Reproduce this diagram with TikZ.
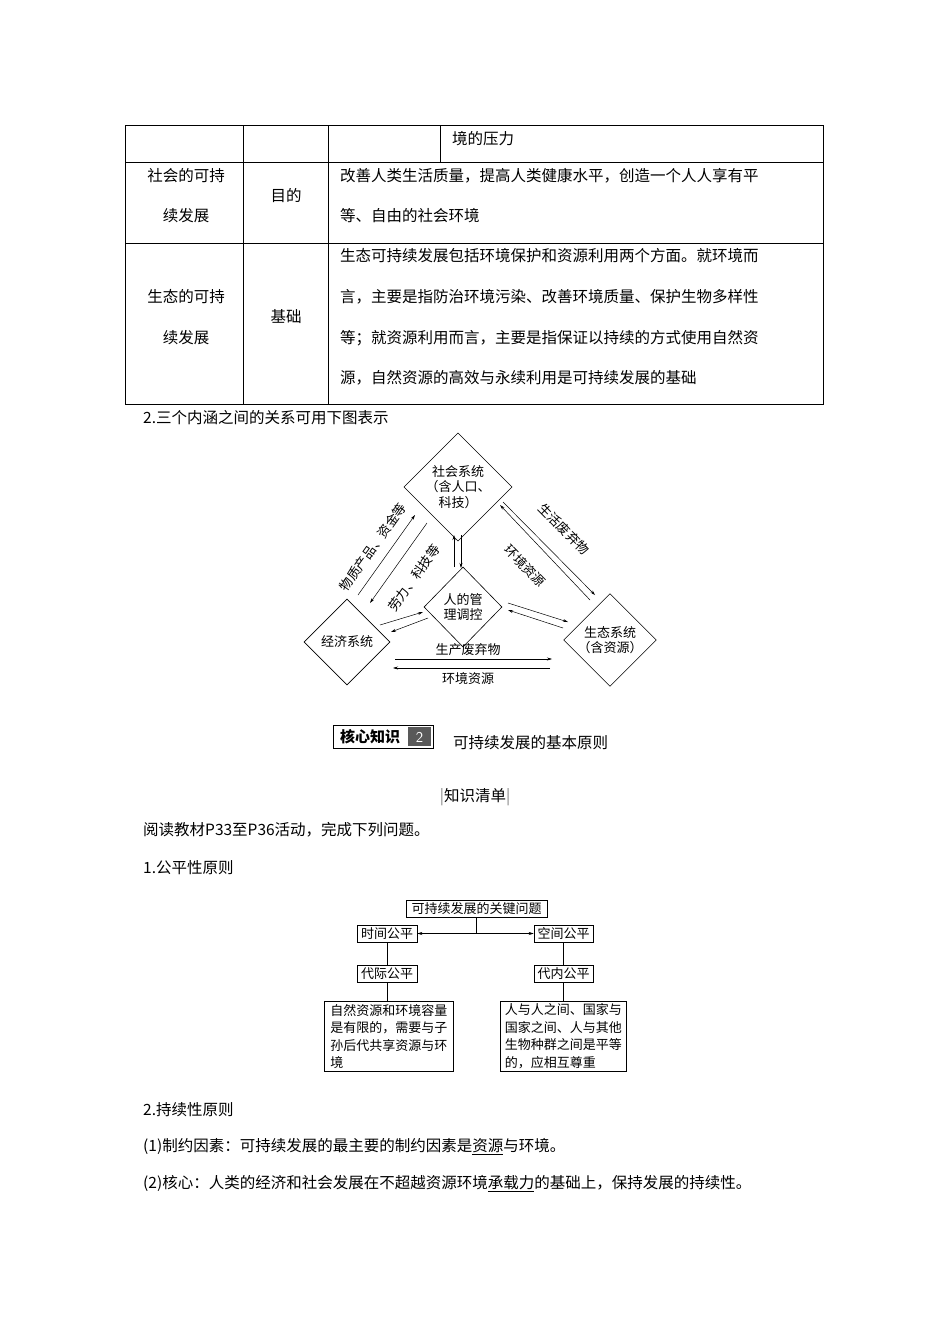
\documentclass[tikz,border=0pt]{standalone}
\usepackage{fontspec}
\setmainfont{Noto Sans CJK SC}
\usetikzlibrary{shapes.geometric,arrows.meta}
\begin{document}
\begin{tikzpicture}[x=1pt,y=-1pt,
  body/.style={font=\fontsize{15.5}{18}\selectfont,inner sep=0pt,anchor=west},
  cell/.style={font=\fontsize{15.5}{18}\selectfont,inner sep=0pt},
  dtext/.style={font=\fontsize{13}{15}\selectfont,inner sep=0pt},
  dia/.style={diamond,draw,line width=0.6pt,minimum width=86pt,minimum height=86pt,inner sep=0pt,align=center,font=\fontsize{13}{15.5}\selectfont},
  arr/.style={-{Stealth[length=5pt,width=3pt]},line width=0.5pt},
  fbox/.style={draw,line width=0.6pt,inner sep=2pt,font=\fontsize{13}{17.5}\selectfont},
  tbl/.style={line width=0.6pt}]
\useasboundingbox (0,0) rectangle (950,1344);
% table
\draw[tbl] (125,125) rectangle (823,404);
\draw[tbl] (125,162) -- (823,162) (125,243) -- (823,243);
\draw[tbl] (243,125) -- (243,404) (328,125) -- (328,404) (440,125) -- (440,162);
\node[body] (t0) at (452,139) {境的压力};
\node[cell] (t1) at (186,176) {社会的可持};
\node[cell] (t2) at (186,216) {续发展};
\node[cell] (t3) at (286,196) {目的};
\node[body] (t4) at (340,176) {改善人类生活质量，提高人类健康水平，创造一个人人享有平};
\node[body] (t5) at (340,216) {等、自由的社会环境};
\node[cell] (t6) at (186,297) {生态的可持};
\node[cell] (t7) at (186,338) {续发展};
\node[cell] (t8) at (286,317) {基础};
\node[body] (t9) at (340,256) {生态可持续发展包括环境保护和资源利用两个方面。就环境而};
\node[body] (t10) at (340,297) {言，主要是指防治环境污染、改善环境质量、保护生物多样性};
\node[body] (t11) at (340,338) {等；就资源利用而言，主要是指保证以持续的方式使用自然资};
\node[body] (t12) at (340,378) {源，自然资源的高效与永续利用是可持续发展的基础};
\node[body] (h2) at (143,418) {2.三个内涵之间的关系可用下图表示};
% triangle diagram
\node[dia] (soc) at (458,487) {社会系统\\（含人口、\\科技）};
\node[dia] (eco) at (347,642) {经济系统};
\node[dia] (env) at (610,640) {生态系统\\（含资源）};
\node[dia,minimum width=78pt,minimum height=80pt] (hum) at (463,607) {人的管\\理调控};
\draw[arr] (358,595) -- (415,515);
\draw[arr] (427,523) -- (370,603);
\node[dtext,rotate=54.5] (l1) at (373,547) {物质产品、资金等};
\node[dtext,rotate=54.5] (l2) at (414,578) {劳力、科技等};
\draw[arr] (454,567) -- (454,535);
\draw[arr] (461,535) -- (461,568);
\draw[arr] (503,502) -- (595,595);
\draw[arr] (590,600) -- (500,505);
\node[dtext,rotate=-45.5] (l3) at (564,529) {生活废弃物};
\node[dtext,rotate=-45.5] (l4) at (525,566) {环境资源};
\draw[arr] (380,625) -- (423,612);
\draw[arr] (428,618) -- (391,632);
\draw[arr] (508,603) -- (568,622);
\draw[arr] (563,628) -- (508,610);
\draw[arr] (395,659) -- (552,659);
\draw[arr] (550,668) -- (393,668);
\node[dtext] (l5) at (468,650) {生产废弃物};
\node[dtext] (l6) at (468,679) {环境资源};
% heading badge
\draw[line width=0.8pt] (333,725) rectangle (433,748);
\fill[black!65] (408,727) rectangle (431,746);
\node[inner sep=0pt,font=\fontsize{15}{18}\selectfont\bfseries] (k1) at (370,737) {核心知识};
\node[inner sep=0pt,text=white,font=\fontsize{15}{18}\selectfont\sffamily] (k2) at (419.5,737) {2};
\node[body] (k3) at (453,743) {可持续发展的基本原则};
\node[cell] (k4) at (475,797) {\textcolor{black!50}{|}知识清单\textcolor{black!50}{|}};
\node[body] (p1) at (143,830) {阅读教材P33至P36活动，完成下列问题。};
\node[body] (p2) at (143,868) {1.公平性原则};
% flowchart
\node[fbox,minimum width=141pt,minimum height=17pt] (top) at (476.5,908.5) {可持续发展的关键问题};
\node[fbox,minimum width=60pt,minimum height=17pt] (sj) at (387,933.5) {时间公平};
\node[fbox,minimum width=59pt,minimum height=17pt] (kj) at (563.5,933.5) {空间公平};
\node[fbox,minimum width=60pt,minimum height=17pt] (dj) at (387,973.5) {代际公平};
\node[fbox,minimum width=59pt,minimum height=17pt] (dn) at (563.5,973.5) {代内公平};
\node[fbox,align=left,minimum width=129pt,minimum height=70pt,anchor=north west] (lb) at (324,1001) {自然资源和环境容量\\是有限的，需要与子\\孙后代共享资源与环\\境};
\node[fbox,align=left,minimum width=126pt,minimum height=70pt,anchor=north west] (rb) at (500,1001) {人与人之间、国家与\\国家之间、人与其他\\生物种群之间是平等\\的，应相互尊重};
\coordinate (mid) at (top.south |- sj.east);
\draw[line width=0.5pt] (top.south) -- (mid);
\draw[arr] (mid) -- (sj.east);
\draw[arr] (mid) -- (kj.west);
\draw[line width=0.5pt] (sj) -- (dj) (kj) -- (dn);
\draw[line width=0.5pt] (dj) -- (dj.south |- lb.north) (dn) -- (dn.south |- rb.north);
\node[body] (p3) at (143,1110) {2.持续性原则};
\node[body] (p4) at (143,1147) {(1)制约因素：可持续发展的最主要的制约因素是\underline{资源}与环境。};
\node[body] (p5) at (143,1184) {(2)核心：人类的经济和社会发展在不超越资源环境\underline{承载力}的基础上，保持发展的持续性。};
\end{tikzpicture}
\end{document}
